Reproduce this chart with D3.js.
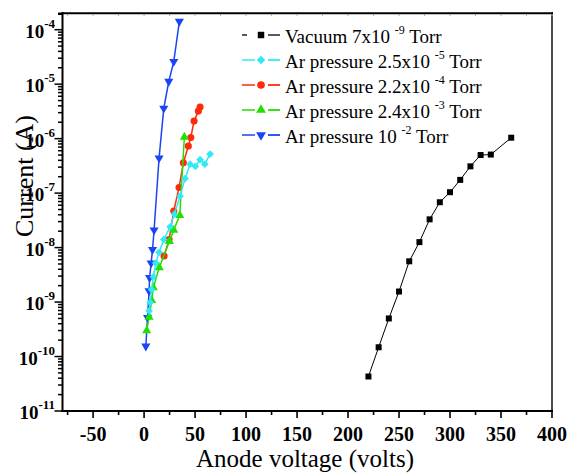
<!DOCTYPE html>
<html>
<head>
<meta charset="utf-8">
<script src="https://cdn.jsdelivr.net/npm/d3@7"></script>
<style>
  body { margin: 0; background: #fff; }
  text { font-family: "Liberation Serif", "Times New Roman", serif; white-space: pre; }
</style>
</head>
<body>
<svg width="570" height="473"></svg>
<script>
// données (tension en V, courant en A)
const vacuumV = [220, 230, 240, 250, 260, 270, 280, 290, 300, 310, 320, 330, 340, 360];
const vacuumI = [4.3e-11, 1.48e-10, 5e-10, 1.56e-9, 5.6e-9, 1.26e-8, 3.3e-8, 6.8e-8, 1.04e-7, 1.75e-7, 3.1e-7, 5e-7, 5.1e-7, 1.04e-6];

const ar25V = [4.9, 5.9, 7.4, 9.1, 11.5, 14.7, 19.3, 25.5, 29.7, 35.3, 40.2, 45.1, 50.3, 54.9, 59.5, 64.7];
const ar25I = [6.9e-10, 9.8e-10, 1.7e-9, 2.9e-9, 5.2e-9, 8.2e-9, 1.4e-8, 2.4e-8, 4.1e-8, 8.8e-8, 1.85e-7, 3.4e-7, 3.1e-7, 4.1e-7, 3.4e-7, 5.2e-7];

const ar22V = [19.6, 24.5, 29.1, 34.3, 38.5, 43.4, 45.8, 49, 53.2, 54.9];
const ar22I = [7e-9, 1.4e-8, 4.7e-8, 1.27e-7, 3.6e-7, 7.3e-7, 1.05e-6, 2.1e-6, 3.2e-6, 3.8e-6];

const ar24V = [2.6, 4.9, 7.5, 9.1, 14.9, 24.8, 29.1, 35, 39.5];
const ar24I = [3e-10, 5.3e-10, 1.07e-9, 1.85e-9, 4.3e-9, 1.3e-8, 2.1e-8, 3.9e-8, 1.07e-6];

const ar10V = [1.7, 3.4, 4.9, 5.4, 6.9, 8.3, 9.8, 14.7, 19.3, 24.2, 29.1, 34.6];
const ar10I = [1.55e-10, 5.2e-10, 1.6e-9, 2.8e-9, 5.2e-9, 9.2e-9, 2.1e-8, 4.4e-7, 3.6e-6, 1.12e-5, 2.6e-5, 1.42e-4];

const xTicks = [-50, 0, 50, 100, 150, 200, 250, 300, 350, 400];
const yExponents = [-11, -10, -9, -8, -7, -6, -5, -4];

const svg = d3.select('svg');

const x = d3.scaleLinear().domain([-80, 400]).range([62.5, 552]);
const y = d3.scaleLog().domain([1e-11, 2e-4]).range([411, 13.3]);

// séries (ordre de la légende)
const series = [
  { name: 'Vacuum 7x10 ', exp: '-9', v: vacuumV, i: vacuumI, color: '#000000', sym: d3.symbolSquare, size: 36, rot: 0, width: 1 },
  { name: 'Ar pressure 2.5x10 ', exp: '-5', v: ar25V, i: ar25I, color: '#33e8f5', sym: d3.symbolSquare, size: 30, rot: 45, width: 1.5 },
  { name: 'Ar pressure 2.2x10 ', exp: '-4', v: ar22V, i: ar22I, color: '#ff2a0a', sym: d3.symbolCircle, size: 40, rot: 0, width: 1.5 },
  { name: 'Ar pressure 2.4x10 ', exp: '-3', v: ar24V, i: ar24I, color: '#22e000', sym: d3.symbolTriangle, size: 36, rot: 0, width: 1.5 },
  { name: 'Ar pressure 10 ', exp: '-2', v: ar10V, i: ar10I, color: '#1a44f5', sym: d3.symbolTriangle, size: 36, rot: 180, width: 1.5 }
];

const line = d3.line().x(d => x(d[0])).y(d => y(d[1]));

// ordre de dessin
const drawOrder = [0, 4, 2, 3, 1];
const plot = svg.append('g');
drawOrder.forEach(k => {
  const s = series[k];
  const pts = s.v.map((v, j) => [v, s.i[j]]);
  plot.append('path')
      .attr('d', line(pts))
      .attr('fill', 'none')
      .attr('stroke', s.color)
      .attr('stroke-width', s.width);
  plot.selectAll(null)
    .data(pts)
    .enter()
    .append('path')
      .attr('d', d3.symbol().type(s.sym).size(s.size))
      .attr('transform', d => `translate(${x(d[0])},${y(d[1])}) rotate(${s.rot})`)
      .attr('fill', s.color);
});

// axes
const axes = svg.append('g').attr('stroke', '#000');
axes.append('line').attr('x1', 62.5).attr('x2', 62.5).attr('y1', 12.3).attr('y2', 412).attr('stroke-width', 2);
axes.append('line').attr('x1', 61.5).attr('x2', 553).attr('y1', 411).attr('y2', 411).attr('stroke-width', 2);
axes.append('line').attr('x1', 61.5).attr('x2', 553).attr('y1', 13.3).attr('y2', 13.3).attr('stroke-width', 2);
axes.append('line').attr('x1', 552).attr('x2', 552).attr('y1', 12.3).attr('y2', 412).attr('stroke-width', 1.4);

// graduations x
d3.range(-75, 401, 25).forEach(v => {
  const major = v % 50 === 0;
  axes.append('line')
      .attr('x1', x(v)).attr('x2', x(v))
      .attr('y1', 411).attr('y2', 411 + (major ? 7 : 4))
      .attr('stroke-width', 1.6);
  axes.append('line')
      .attr('x1', x(v)).attr('x2', x(v))
      .attr('y1', 14).attr('y2', 16)
      .attr('stroke', '#aaa').attr('stroke-width', 1);
});

svg.append('g').selectAll('text')
  .data(xTicks)
  .enter()
  .append('text')
    .attr('x', d => x(d))
    .attr('y', 441)
    .attr('text-anchor', 'middle')
    .attr('font-size', 20)
    .attr('font-weight', 'bold')
    .text(d => d);

// graduations y
y.ticks().forEach(t => {
  const e = Math.log10(t);
  const major = Math.abs(e - Math.round(e)) < 1e-6;
  axes.append('line')
      .attr('x1', 62.5).attr('x2', 62.5 - (major ? 8 : 4.5))
      .attr('y1', y(t)).attr('y2', y(t))
      .attr('stroke-width', 1.5);
});
[2e-4].forEach(t => {
  axes.append('line')
      .attr('x1', 62.5).attr('x2', 58)
      .attr('y1', y(t) + 1).attr('y2', y(t) + 1)
      .attr('stroke-width', 1.5);
});

const yLab = svg.append('g').selectAll('text')
  .data(yExponents)
  .enter()
  .append('text')
    .attr('x', 55)
    .attr('y', d => y(Math.pow(10, d)) + 8)
    .attr('text-anchor', 'end')
    .attr('font-size', 19)
    .attr('font-weight', 'bold');
yLab.append('tspan').text('10');
yLab.append('tspan').attr('font-size', 13).attr('dy', -10).text(d => d);

// titres
svg.append('text')
    .attr('transform', 'translate(33,176) rotate(-90)')
    .attr('text-anchor', 'middle')
    .attr('font-size', 26)
    .text('Current (A)');

svg.append('text')
    .attr('x', 305).attr('y', 467)
    .attr('text-anchor', 'middle')
    .attr('font-size', 25)
    .text('Anode voltage (volts)');

// légende
const leg = svg.append('g');
series.forEach((s, k) => {
  const ly = 35 + k * 25;
  const g = leg.append('g');
  if (k === 0) {
    g.append('line').attr('x1', 242).attr('x2', 247).attr('y1', ly).attr('y2', ly)
        .attr('stroke', s.color).attr('stroke-width', 1.3);
  } else {
    g.append('line').attr('x1', 242).attr('x2', 255).attr('y1', ly).attr('y2', ly)
        .attr('stroke', s.color).attr('stroke-width', 1.5);
  }
  g.append('line').attr('x1', 268).attr('x2', 280).attr('y1', ly).attr('y2', ly)
      .attr('stroke', s.color).attr('stroke-width', s.width + 0.3);
  g.append('path')
      .attr('d', d3.symbol().type(s.sym).size(s.size + 6))
      .attr('transform', `translate(261,${ly}) rotate(${s.rot})`)
      .attr('fill', s.color);
  const t = g.append('text')
      .attr('x', 285).attr('y', ly + 8)
      .attr('font-size', 19);
  t.append('tspan').text(s.name);
  t.append('tspan').attr('font-size', 12).attr('dy', -9).text(s.exp);
  t.append('tspan').attr('dy', 9).text(' Torr');
});
</script>
</body>
</html>
